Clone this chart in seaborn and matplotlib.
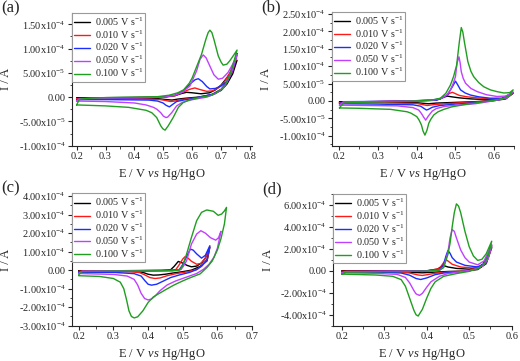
import numpy as np
import pandas as pd
import seaborn as sns
import matplotlib
matplotlib.use('Agg')
import matplotlib.pyplot as plt
from matplotlib.lines import Line2D
from matplotlib.ticker import MultipleLocator, FuncFormatter

sns.set_style('ticks')
plt.rcParams['font.family'] = ['Liberation Serif', 'DejaVu Serif']
plt.rcParams['mathtext.fontset'] = 'custom'
plt.rcParams['mathtext.rm'] = 'Liberation Serif'
plt.rcParams['mathtext.it'] = 'Liberation Serif:italic'
plt.rcParams['mathtext.default'] = 'regular'

rates = ['0.005', '0.010', '0.020', '0.050', '0.100']
colors = ['#000000', '#ff1a1a', '#1a2eff', '#c040ff', '#1f9e1f']

# (E / V, I / 1e-5 A), forward scan then reverse scan
# panel (a)
a_005 = [(0.2, -0.2), (0.3, -0.1), (0.5, 0.0), (0.54, 0.3), (0.56, 0.7), (0.58, 1.0), (0.60, 0.9), (0.63, 0.7),
         (0.66, 0.9), (0.68, 1.5), (0.70, 2.5), (0.72, 4.0), (0.74, 5.8), (0.755, 7.6),
         (0.74, 4.8), (0.72, 2.7), (0.70, 1.4), (0.67, 0.5), (0.62, 0.0), (0.58, -0.2), (0.55, -0.4), (0.53, -0.6),
         (0.51, -0.5), (0.48, -0.3), (0.40, -0.2), (0.2, -0.2)]
a_010 = [(0.2, -0.3), (0.3, -0.2), (0.5, 0.0), (0.54, 0.3), (0.563, 0.9), (0.59, 1.6), (0.609, 1.9), (0.625, 1.6),
         (0.65, 1.2), (0.67, 1.3), (0.69, 1.9), (0.71, 3.0), (0.73, 5.0), (0.755, 8.6),
         (0.74, 5.4), (0.72, 3.0), (0.70, 1.6), (0.67, 0.6), (0.63, 0.0), (0.59, -0.3), (0.56, -0.5), (0.54, -0.8),
         (0.524, -0.9), (0.51, -0.7), (0.49, -0.5), (0.45, -0.4), (0.3, -0.3), (0.2, -0.3)]
a_020 = [(0.2, -0.5), (0.3, -0.3), (0.5, 0.0), (0.54, 0.4), (0.569, 1.3), (0.598, 3.0), (0.61, 3.6), (0.621, 3.8),
         (0.635, 3.2), (0.65, 2.2), (0.661, 1.7), (0.68, 1.8), (0.70, 2.3), (0.719, 3.2), (0.735, 5.0), (0.755, 9.0),
         (0.74, 5.6), (0.719, 3.0), (0.70, 1.6), (0.67, 0.6), (0.63, 0.1), (0.60, -0.3), (0.57, -0.6), (0.546, -0.9),
         (0.532, -1.5), (0.521, -2.0), (0.51, -1.7), (0.499, -1.2), (0.48, -0.8), (0.45, -0.6), (0.3, -0.5), (0.2, -0.5)]
a_050 = [(0.2, -0.8), (0.21, -0.3), (0.3, -0.2), (0.5, 0.0), (0.54, 0.4), (0.565, 1.0), (0.592, 2.3), (0.615, 5.4),
         (0.627, 7.8), (0.638, 8.7), (0.648, 8.1), (0.661, 6.4), (0.675, 4.6), (0.690, 3.7), (0.705, 3.9),
         (0.724, 5.1), (0.74, 6.8), (0.755, 8.8),
         (0.74, 5.8), (0.72, 3.1), (0.707, 1.8), (0.68, 0.7), (0.65, 0.0), (0.62, -0.3), (0.592, -0.6), (0.565, -1.1),
         (0.546, -1.8), (0.529, -3.2), (0.515, -4.1), (0.509, -4.2), (0.50, -3.9), (0.491, -3.2), (0.478, -2.5),
         (0.466, -2.1), (0.44, -1.6), (0.40, -1.2), (0.3, -0.9), (0.2, -0.8)]
a_100 = [(0.2, -1.6), (0.21, -0.4), (0.25, -0.2), (0.3, -0.1), (0.4, 0.0), (0.48, 0.1), (0.52, 0.4), (0.55, 0.9),
         (0.57, 1.5), (0.59, 2.9), (0.60, 4.0), (0.62, 7.0), (0.632, 8.8), (0.647, 11.9), (0.655, 13.3),
         (0.661, 13.8), (0.668, 13.3), (0.675, 11.9), (0.69, 8.5), (0.70, 7.2), (0.707, 6.6), (0.72, 6.8),
         (0.73, 7.5), (0.745, 8.8), (0.755, 9.7),
         (0.745, 7.5), (0.73, 4.6), (0.715, 2.6), (0.70, 1.6), (0.68, 0.8), (0.661, 0.3), (0.63, 0.0), (0.603, -0.4),
         (0.585, -0.7), (0.569, -1.1), (0.552, -2.1), (0.534, -4.2), (0.517, -5.9), (0.506, -6.8), (0.498, -6.5),
         (0.491, -5.9), (0.477, -4.2), (0.46, -3.2), (0.44, -2.7), (0.42, -2.5), (0.38, -2.1), (0.3, -1.8),
         (0.2, -1.6)]

# panel (b)
b_005 = [(0.2, -0.3), (0.33, -0.1), (0.44, 0.2), (0.46, 0.6), (0.47, 1.1), (0.479, 1.4), (0.49, 1.2), (0.51, 0.9),
         (0.54, 0.6), (0.58, 0.4), (0.62, 0.6), (0.649, 2.2),
         (0.63, 0.6), (0.60, 0.1), (0.55, -0.2), (0.50, -0.4), (0.45, -0.6), (0.43, -0.8), (0.42, -0.7), (0.40, -0.5),
         (0.3, -0.3), (0.2, -0.3)]
b_010 = [(0.2, -0.5), (0.33, -0.1), (0.45, 0.2), (0.461, 0.7), (0.475, 1.5), (0.485, 2.2), (0.492, 2.5), (0.50, 2.1),
         (0.51, 1.6), (0.53, 1.2), (0.556, 0.9), (0.59, 0.6), (0.62, 0.7), (0.649, 2.3),
         (0.63, 0.7), (0.60, 0.2), (0.55, -0.3), (0.50, -0.6), (0.46, -0.9), (0.44, -1.1), (0.427, -1.3), (0.418, -1.1),
         (0.40, -0.7), (0.3, -0.5), (0.2, -0.5)]
b_020 = [(0.2, -0.8), (0.21, -0.2), (0.33, -0.1), (0.45, 0.2), (0.465, 0.8), (0.479, 1.7), (0.492, 4.1), (0.50, 5.7),
         (0.506, 4.6), (0.513, 3.2), (0.525, 2.3), (0.539, 1.7), (0.56, 1.2), (0.59, 0.8), (0.62, 0.8), (0.649, 2.4),
         (0.63, 0.8), (0.60, 0.2), (0.55, -0.5), (0.50, -0.9), (0.46, -1.3), (0.44, -1.8), (0.43, -2.4), (0.425, -2.6),
         (0.418, -2.1), (0.41, -1.5), (0.39, -1.1), (0.3, -0.9), (0.2, -0.8)]
b_050 = [(0.2, -1.2), (0.21, -0.3), (0.33, -0.1), (0.44, 0.2), (0.465, 0.8), (0.478, 1.8), (0.487, 3.2), (0.494, 5.0),
         (0.50, 7.0), (0.504, 10.8), (0.509, 12.7), (0.512, 11.0), (0.515, 8.4), (0.52, 6.5), (0.526, 5.1),
         (0.54, 3.6), (0.556, 2.7), (0.58, 1.8), (0.607, 1.3), (0.63, 1.4), (0.649, 2.6),
         (0.635, 1.0), (0.61, 0.3), (0.58, -0.3), (0.55, -0.8), (0.50, -1.2), (0.47, -1.6), (0.45, -2.2), (0.44, -2.9),
         (0.43, -4.3), (0.423, -5.5), (0.418, -4.7), (0.412, -3.6), (0.405, -2.6), (0.39, -1.9), (0.35, -1.4),
         (0.2, -1.2)]
b_100 = [(0.2, -2.0), (0.21, -0.6), (0.25, -0.4), (0.33, -0.2), (0.40, 0.0), (0.44, 0.3), (0.461, 0.8), (0.475, 2.2),
         (0.487, 4.6), (0.495, 7.0), (0.503, 10.3), (0.51, 17.0), (0.515, 21.1), (0.519, 19.8), (0.523, 17.0),
         (0.532, 11.3), (0.54, 8.5), (0.547, 7.0), (0.56, 5.3), (0.573, 4.1), (0.59, 3.2), (0.607, 2.7),
         (0.625, 2.3), (0.64, 2.4), (0.649, 3.2),
         (0.64, 1.6), (0.625, 0.8), (0.60, 0.2), (0.573, -0.2), (0.55, -0.6), (0.52, -1.1), (0.49, -1.7), (0.47, -2.4),
         (0.455, -3.1), (0.444, -4.0), (0.436, -5.3), (0.431, -6.4), (0.426, -8.5), (0.421, -9.8), (0.416, -8.6),
         (0.412, -6.9), (0.406, -5.5), (0.40, -4.5), (0.385, -3.5), (0.375, -3.1), (0.332, -2.4), (0.25, -2.1),
         (0.2, -2.0)]

# panel (c)
c_005 = [(0.2, -0.5), (0.44, -0.1), (0.465, 0.2), (0.475, 2.0), (0.487, 4.7), (0.50, 3.8), (0.512, 2.6),
         (0.525, 1.8), (0.54, 2.2), (0.555, 4.0), (0.565, 6.5), (0.578, 12.3),
         (0.57, 5.0), (0.55, 2.0), (0.525, 0.0), (0.50, -0.8), (0.47, -1.6), (0.45, -2.2), (0.43, -2.6),
         (0.415, -2.7), (0.40, -2.2), (0.385, -1.2), (0.36, -0.7), (0.2, -0.5)]
c_010 = [(0.2, -0.7), (0.46, -0.1), (0.48, 0.3), (0.49, 3.0), (0.50, 6.0), (0.506, 7.2), (0.515, 6.5), (0.525, 4.8),
         (0.54, 3.2), (0.552, 3.6), (0.565, 6.5), (0.578, 12.6),
         (0.57, 5.5), (0.555, 2.2), (0.54, 0.3), (0.51, -1.0), (0.48, -1.9), (0.455, -3.0), (0.435, -4.2),
         (0.42, -4.5), (0.405, -4.0), (0.39, -2.5), (0.375, -1.3), (0.35, -0.9), (0.2, -0.7)]
c_020 = [(0.2, -1.0), (0.47, -0.2), (0.49, 0.3), (0.50, 3.0), (0.51, 7.0), (0.522, 11.4), (0.53, 10.8), (0.54, 8.8),
         (0.554, 6.5), (0.565, 8.0), (0.578, 13.2),
         (0.57, 6.0), (0.555, 2.5), (0.54, 0.3), (0.52, -1.2), (0.49, -2.6), (0.465, -4.0), (0.445, -5.8),
         (0.425, -7.6), (0.41, -8.1), (0.40, -7.6), (0.39, -5.5), (0.38, -3.2), (0.36, -1.9), (0.3, -1.2), (0.2, -1.0)]
c_050 = [(0.2, -1.8), (0.21, -0.5), (0.48, -0.2), (0.495, 0.3), (0.505, 3.0), (0.511, 5.1), (0.525, 14.1),
         (0.54, 19.5), (0.552, 21.3), (0.565, 20.0), (0.58, 17.5), (0.595, 16.2), (0.603, 17.5), (0.61, 21.0),
         (0.60, 12.0), (0.59, 7.0), (0.575, 3.0), (0.56, 0.5), (0.54, -1.8), (0.51, -3.8), (0.48, -5.8),
         (0.455, -8.0), (0.435, -11.0), (0.42, -14.0), (0.41, -15.6), (0.40, -16.1), (0.39, -15.3), (0.38, -12.5),
         (0.37, -8.0), (0.36, -5.0), (0.34, -3.2), (0.3, -2.3), (0.2, -1.8)]
c_100 = [(0.2, -2.5), (0.21, -0.8), (0.3, -0.5), (0.47, -0.3), (0.49, 0.0), (0.50, 2.5), (0.511, 8.7), (0.525, 17.7),
         (0.54, 26.7), (0.554, 31.2), (0.569, 32.5), (0.588, 31.8), (0.602, 29.6), (0.612, 30.3), (0.62, 32.0),
         (0.626, 33.9),
         (0.62, 25.0), (0.61, 17.0), (0.60, 11.0), (0.585, 5.0), (0.57, 1.5), (0.55, -2.0), (0.52, -4.2),
         (0.50, -5.8), (0.475, -8.0), (0.453, -10.3), (0.43, -12.8), (0.415, -14.5), (0.40, -17.5), (0.385, -22.0),
         (0.37, -25.2), (0.36, -25.8), (0.352, -25.0), (0.345, -22.0), (0.338, -16.0), (0.33, -10.0), (0.32, -6.5),
         (0.30, -4.5), (0.26, -3.4), (0.2, -3.0)]

# panel (d)
d_005 = [(0.2, -0.3), (0.4, 0.0), (0.425, 1.5), (0.435, 4.0), (0.44, 4.8), (0.45, 3.5), (0.47, 2.2), (0.50, 1.5),
         (0.53, 4.0), (0.553, 21.0),
         (0.54, 6.5), (0.52, 1.2), (0.49, -0.2), (0.45, -0.6), (0.42, -1.2), (0.39, -1.8), (0.37, -1.5), (0.34, -0.7),
         (0.2, -0.3)]
d_010 = [(0.2, -0.6), (0.4, 0.0), (0.43, 2.0), (0.44, 7.5), (0.445, 10.3), (0.45, 9.0), (0.46, 6.0), (0.48, 3.5),
         (0.51, 2.5), (0.535, 5.5), (0.553, 22.0),
         (0.54, 7.0), (0.52, 1.5), (0.49, -0.3), (0.45, -1.0), (0.42, -2.2), (0.40, -3.6), (0.39, -4.2), (0.38, -3.8),
         (0.36, -2.0), (0.33, -1.0), (0.2, -0.6)]
d_020 = [(0.2, -1.0), (0.4, -0.1), (0.43, 1.0), (0.44, 6.0), (0.445, 13.0), (0.45, 18.5), (0.455, 16.0), (0.46, 12.0),
         (0.47, 8.0), (0.49, 5.0), (0.52, 3.5), (0.535, 6.5), (0.553, 23.0),
         (0.54, 8.0), (0.52, 2.0), (0.50, 0.0), (0.47, -1.2), (0.44, -2.0), (0.42, -3.5), (0.40, -6.5), (0.386, -7.9),
         (0.375, -7.0), (0.36, -4.0), (0.34, -2.0), (0.3, -1.3), (0.2, -1.0)]
d_050 = [(0.2, -1.8), (0.21, -0.6), (0.4, -0.2), (0.43, 0.5), (0.44, 3.5), (0.45, 17.0), (0.455, 30.0), (0.46, 37.6),
         (0.465, 36.0), (0.47, 30.0), (0.48, 19.0), (0.49, 12.0), (0.50, 8.0), (0.52, 5.5), (0.535, 9.0),
         (0.553, 24.0),
         (0.545, 11.0), (0.53, 4.0), (0.51, 1.0), (0.48, -0.8), (0.45, -2.5), (0.43, -5.0), (0.41, -10.0),
         (0.40, -15.0), (0.39, -20.5), (0.383, -22.4), (0.375, -21.0), (0.37, -18.0), (0.36, -11.0), (0.35, -6.0),
         (0.33, -3.2), (0.28, -2.3), (0.2, -1.8)]
d_100 = [(0.2, -3.0), (0.21, -1.2), (0.3, -0.8), (0.4, -0.3), (0.43, 0.5), (0.44, 3.0), (0.45, 15.0), (0.455, 25.0),
         (0.46, 40.0), (0.465, 53.0), (0.47, 61.0), (0.475, 59.0), (0.48, 53.0), (0.49, 36.0), (0.50, 22.0),
         (0.51, 13.5), (0.52, 9.5), (0.53, 10.5), (0.54, 15.5), (0.553, 27.0),
         (0.545, 14.0), (0.535, 6.0), (0.52, 2.0), (0.50, -0.5), (0.47, -2.5), (0.44, -5.0), (0.42, -10.0),
         (0.41, -16.0), (0.40, -25.0), (0.39, -35.0), (0.38, -41.2), (0.375, -40.0), (0.37, -36.0), (0.36, -25.0),
         (0.35, -14.0), (0.34, -8.0), (0.32, -5.0), (0.28, -3.8), (0.2, -3.0)]

panels = [
    ('(a)', [a_005, a_010, a_020, a_050, a_100], (0.183, 0.805), (-1.0e-4, 1.74e-4), 5e-5),
    ('(b)', [b_005, b_010, b_020, b_050, b_100], (0.18, 0.65), (-1.285e-4, 2.566e-4), 5e-5),
    ('(c)', [c_005, c_010, c_020, c_050, c_100], (0.18, 0.70), (-3.0e-4, 4.15e-4), 1e-4),
    ('(d)', [d_005, d_010, d_020, d_050, d_100], (0.179, 0.60), (-5.0e-4, 7.0e-4), 2e-4),
]

# axes boxes in pixels: left, top, right, bottom
boxes = [(71.7, 12.7, 251.5, 145.7), (331.7, 11.7, 513.5, 145.7),
         (71.7, 193.3, 252.2, 325.7), (332.7, 194.0, 511.7, 325.7)]
W, H = 520, 361


def sci(v, pos):
    if abs(v) < 1e-12:
        return '0.00'
    e = int(np.floor(np.log10(abs(v)) + 1e-9))
    return '%.2fx10$^{%d}$' % (v / 10 ** e, e)


fig = plt.figure(figsize=(5.2, 3.61), dpi=100)

for (tag, curves, xl, yl, ystep), (l, t, r, b) in zip(panels, boxes):
    ax = fig.add_axes([l / W, 1 - b / H, (r - l) / W, (b - t) / H])
    rows = []
    for rate, pts in zip(rates, curves):
        for i, (e, cur) in enumerate(pts):
            rows.append({'E': e, 'I': cur * 1e-5, 'rate': rate, 'i': i})
    df = pd.DataFrame(rows)
    sns.lineplot(data=df, x='E', y='I', hue='rate', palette=dict(zip(rates, colors)),
                 sort=False, estimator=None, linewidth=1.0, legend=False, ax=ax)
    ax.set_xlim(*xl)
    ax.set_ylim(*yl)
    ax.xaxis.set_major_locator(MultipleLocator(0.1))
    ax.xaxis.set_minor_locator(MultipleLocator(0.05))
    ax.yaxis.set_major_locator(MultipleLocator(ystep))
    ax.yaxis.set_minor_locator(MultipleLocator(ystep / 2))
    ax.yaxis.set_major_formatter(FuncFormatter(sci))
    ax.xaxis.set_major_formatter(FuncFormatter(lambda v, p: '%.1f' % v))
    ax.tick_params(which='major', direction='out', length=3, width=0.8, labelsize=7.5, pad=1.5)
    ax.tick_params(which='minor', direction='out', length=1.8, width=0.6)
    for s in ['top', 'right']:
        ax.spines[s].set_visible(False)
    for s in ['left', 'bottom']:
        ax.spines[s].set_linewidth(0.8)
    ax.set_xlabel('E / V $\\mathit{vs}$ Hg/HgO', fontsize=9)
    ax.set_ylabel('I / A', fontsize=9)
    ax.xaxis.set_label_coords(0.5, -0.16)
    ax.yaxis.set_label_coords(-0.33, 0.5)
    handles = [Line2D([], [], color=c, lw=1.0) for c in colors]
    labels = [rt + ' V s$^{-1}$' for rt in rates]
    leg = ax.legend(handles, labels, loc='upper left', bbox_to_anchor=(0, 1), borderaxespad=0,
                    frameon=True, fancybox=False, edgecolor='#9a9a9a', framealpha=1,
                    handlelength=1.6, handletextpad=0.4, labelspacing=0.05, borderpad=0.25, fontsize=7.3)
    leg.get_frame().set_linewidth(0.8)
    fig.text((l - 70) / W, 1 - (t - 12.5) / H, tag, fontsize=12, ha='left', va='top')

fig.savefig('out.png', dpi=100)
